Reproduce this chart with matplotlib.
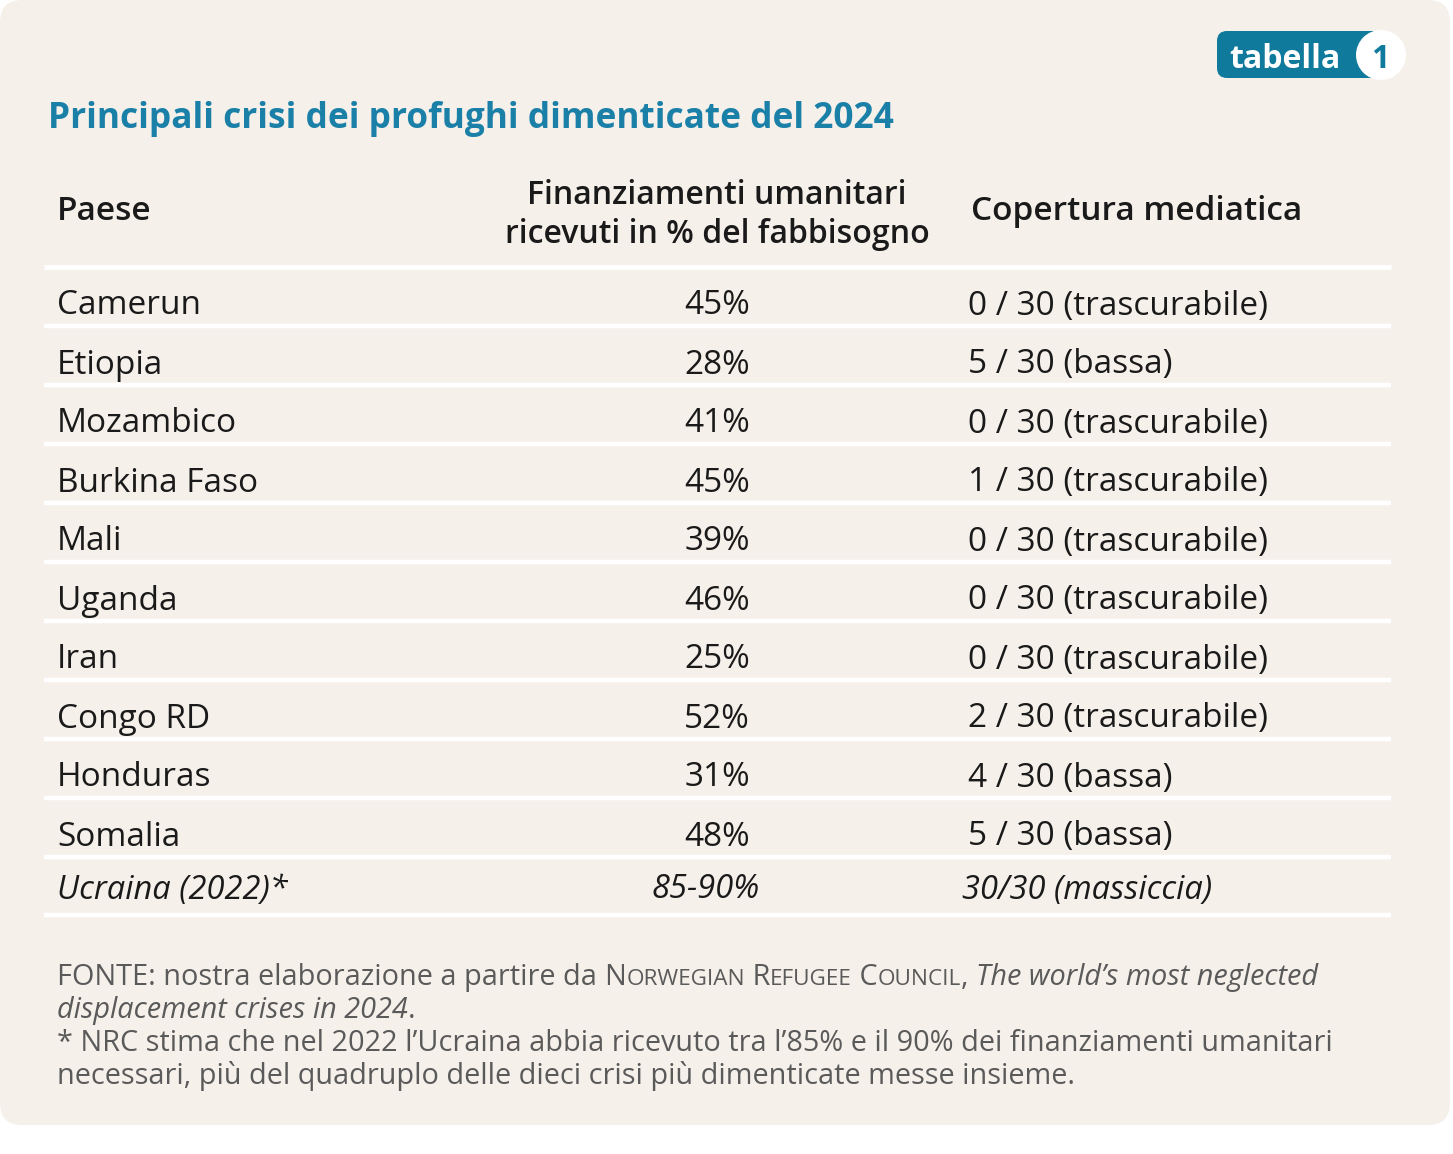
import matplotlib
matplotlib.use("Agg")
import matplotlib.pyplot as plt
from matplotlib.patches import FancyBboxPatch, Circle

# ---------------- data ----------------
titolo = "Principali crisi dei profughi dimenticate del 2024"
intestazioni = ["Paese", "Finanziamenti umanitari\nricevuti in % del fabbisogno", "Copertura mediatica"]
paesi = ["Camerun", "Etiopia", "Mozambico", "Burkina Faso", "Mali", "Uganda",
         "Iran", "Congo RD", "Honduras", "Somalia"]
finanziamenti = [45, 28, 41, 45, 39, 46, 25, 52, 31, 48]
copertura = [0, 5, 0, 1, 0, 0, 0, 2, 4, 5]
livello = ["trascurabile", "bassa", "trascurabile", "trascurabile", "trascurabile",
           "trascurabile", "trascurabile", "trascurabile", "bassa", "bassa"]
riga_ucraina = ["Ucraina (2022)*", "85-90%", "30/30 (massiccia)"]

BG = "#F6F0EA"
BLUE = "#1A80A8"
BADGE = "#0F7A9C"
TXT = "#1A1A1A"
GREY = "#5A5A5A"
FONT = "Open Sans"

W, H = 1453, 1154
fig = plt.figure(figsize=(W / 100, H / 100), dpi=100)
fig.patch.set_facecolor("white")
ax = fig.add_axes([0, 0, 1, 1])
ax.set_xlim(0, W)
ax.set_ylim(H, 0)
ax.axis("off")

# panel
ax.add_patch(FancyBboxPatch((0, 0), 1450, 1125, boxstyle="round,pad=0,rounding_size=22",
                            fc=BG, ec="none", zorder=0))

# badge
ax.add_patch(FancyBboxPatch((1217, 31), 175, 47, boxstyle="round,pad=0,rounding_size=10",
                            fc=BADGE, ec="none", zorder=1))
ax.add_patch(Circle((1381, 55), 25, fc="white", ec="none", zorder=2))
ax.text(1229, 60, "tabella", fontsize=23, fontweight="bold", color="white",
        family=FONT, va="center", ha="left", zorder=3)
ax.text(1380, 60, "1", fontsize=23, fontweight="bold", color=BADGE,
        family=FONT, va="center", ha="center", zorder=3)

# title
ax.text(48, 119, titolo, fontsize=25.4, fontweight="bold", color=BLUE, family=FONT,
        va="center", ha="left")

# header
FR = 24
x_c1, x_c2, x_c3 = 57, 717, 971
ax.text(x_c1, 212, intestazioni[0], fontsize=FR, fontweight="semibold", color=TXT,
        family=FONT, va="center", ha="left")
ax.text(x_c2, 215, intestazioni[1], fontsize=23, fontweight="semibold", color=TXT,
        family=FONT, va="center", ha="center", linespacing=1.22)
ax.text(x_c3, 212, intestazioni[2], fontsize=FR, fontweight="semibold", color=TXT,
        family=FONT, va="center", ha="left")

# separators
x0, x1 = 44, 1391
ax.plot([x0, x1], [267, 267], color="white", lw=3.5, solid_capstyle="butt")

y_first, step = 303, 59
for i, (p, f, c, l) in enumerate(zip(paesi, finanziamenti, copertura, livello)):
    y = y_first + i * step
    ax.text(x_c1, y + 3, p, fontsize=FR, color=TXT, family=FONT, va="center", ha="left")
    ax.text(x_c2, y + 3, f"{f}%", fontsize=FR, color=TXT, family=FONT, va="center", ha="center")
    ax.text(968, y + 3, f"{c} / 30 ({l})", fontsize=FR, color=TXT, family=FONT,
            va="center", ha="left")
    ax.plot([x0, x1], [y + 23, y + 23], color="white", lw=3.2, solid_capstyle="butt")

yu = 890
FI = 23.5
ax.text(x_c1, yu, riga_ucraina[0], fontsize=FI, style="italic", color=TXT, family=FONT,
        va="center", ha="left")
ax.text(706, yu, riga_ucraina[1], fontsize=FI, style="italic", color=TXT, family=FONT,
        va="center", ha="center")
ax.text(962, yu, riga_ucraina[2], fontsize=FI, style="italic", color=TXT, family=FONT,
        va="center", ha="left")
ax.plot([x0, x1], [915, 915], color="white", lw=3.2, solid_capstyle="butt")

# footnotes with small caps
renderer = fig.canvas.get_renderer()
FS, SC = 20.8, 16.2


def run(pieces, x, y):
    for txt, size, style in pieces:
        t = ax.text(x, y, txt, fontsize=size, style=style, color=GREY, family=FONT,
                    va="baseline", ha="left")
        bb = t.get_window_extent(renderer)
        x = bb.x1
    return x


base1 = 985
run([("FONTE: nostra elaborazione a partire da\u00a0", FS, "normal"),
     ("N", FS, "normal"), ("ORWEGIAN", SC, "normal"),
     ("\u00a0R", FS, "normal"), ("EFUGEE", SC, "normal"),
     ("\u00a0C", FS, "normal"), ("OUNCIL", SC, "normal"),
     (",\u00a0", FS, "normal"),
     ("The world’s most neglected", FS, "italic")], 57, base1)
run([("displacement crises in 2024", FS, "italic"), (".", FS, "normal")], 57, base1 + 33)
ax.text(57, base1 + 66, "* NRC stima che nel 2022 l’Ucraina abbia ricevuto tra l’85% e il 90% dei finanziamenti umanitari",
        fontsize=FS, color=GREY, family=FONT, va="baseline", ha="left")
ax.text(57, base1 + 99, "necessari, più del quadruplo delle dieci crisi più dimenticate messe insieme.",
        fontsize=FS, color=GREY, family=FONT, va="baseline", ha="left")

fig.savefig("out.png", dpi=100, facecolor="white")
